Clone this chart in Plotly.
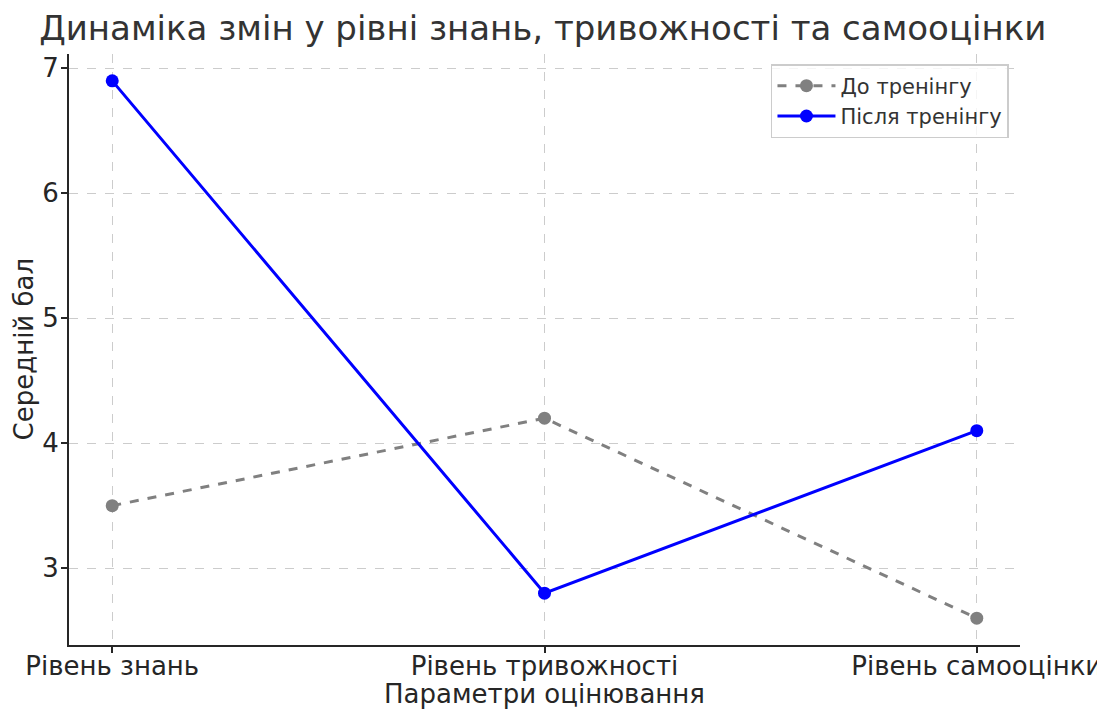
import plotly.graph_objects as go

categories = ["Рівень знань", "Рівень тривожності", "Рівень самооцінки"]
before = [3.5, 4.2, 2.6]
after = [6.9, 2.8, 4.1]
y_ticks = [3, 4, 5, 6, 7]

FONT = "DejaVu Sans"
TXT = "#262626"
xs = list(range(len(categories)))

fig = go.Figure()
fig.add_trace(go.Scatter(
    x=xs, y=before, mode="lines+markers", name="До тренінгу",
    line=dict(color="gray", width=3, dash="dash"),
    marker=dict(color="gray", size=13),
))
fig.add_trace(go.Scatter(
    x=xs, y=after, mode="lines+markers", name="Після тренінгу",
    line=dict(color="blue", width=3),
    marker=dict(color="blue", size=13),
))

# page has an 8px body margin; compensate so plot area lands at 69..1020 x 54..645
fig.update_layout(
    width=1097, height=703,
    paper_bgcolor="white", plot_bgcolor="white",
    margin=dict(l=61, r=85, t=46, b=66, autoexpand=False),
    font=dict(family=FONT, color=TXT),
    title=dict(text="Динаміка змін у рівні знань, тривожності та самооцінки",
               x=0.4875, xanchor="center",
               y=1 - 20 / 703, yanchor="middle",
               font=dict(size=34, color="#333333", family=FONT), automargin=False),
    showlegend=True,
    legend=dict(x=0.9884, y=0.983, xanchor="right", yanchor="top",
                bgcolor="rgba(255,255,255,0.8)", bordercolor="#cccccc", borderwidth=1.5,
                itemwidth=58,
                font=dict(size=21, color="#333333", family=FONT)),
    xaxis=dict(
        tickmode="array", tickvals=xs, ticktext=categories,
        range=[-0.1, 2.1], automargin=False,
        showgrid=True, gridcolor="#cccccc", griddash="dash", gridwidth=1,
        showline=True, linecolor=TXT, linewidth=2,
        ticks="outside", ticklen=6, tickwidth=1.5, tickcolor=TXT,
        ticklabelstandoff=-9,
        tickfont=dict(size=26, color=TXT),
        zeroline=False,
    ),
    yaxis=dict(
        tickmode="array", tickvals=y_ticks,
        range=[2.385, 7.115], automargin=False,
        showgrid=True, gridcolor="#cccccc", griddash="dash", gridwidth=1,
        showline=True, linecolor=TXT, linewidth=2,
        ticks="outside", ticklen=6, tickwidth=1.5, tickcolor=TXT,
        ticklabelstandoff=-3,
        tickfont=dict(size=26, color=TXT),
        zeroline=False,
    ),
    annotations=[
        dict(text="Параметри оцінювання", xref="paper", yref="paper", x=0.5, y=0,
             xanchor="center", yanchor="middle", yshift=-49, showarrow=False,
             font=dict(size=26, color=TXT, family=FONT)),
        dict(text="Середній бал", xref="paper", yref="paper", x=0, y=0.5,
             xanchor="center", yanchor="middle", xshift=-46, textangle=-90, showarrow=False,
             font=dict(size=26, color=TXT, family=FONT)),
    ],
)

fig.write_html("out.html")
